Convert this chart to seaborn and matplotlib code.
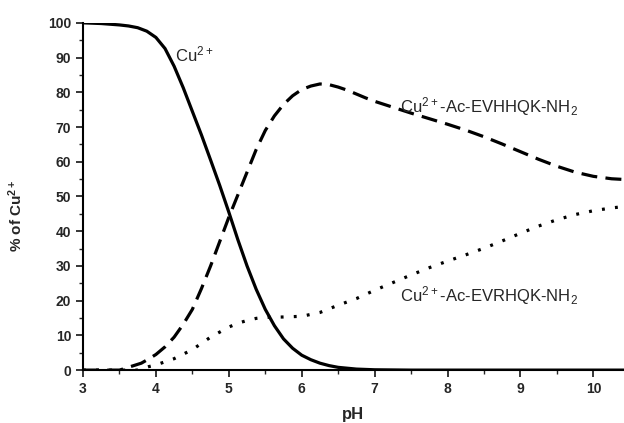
import numpy as np
import pandas as pd
import matplotlib
matplotlib.use("Agg")
import matplotlib.pyplot as plt
import seaborn as sns
from matplotlib.ticker import MultipleLocator

# speciation curves (% of total Cu2+)
ph_cu = [3.0, 3.25, 3.5, 3.625, 3.75, 3.875, 4.0, 4.125, 4.25, 4.375, 4.5,
         4.625, 4.75, 4.875, 5.0, 5.125, 5.25, 5.375, 5.5, 5.625, 5.75,
         5.875, 6.0, 6.125, 6.25, 6.375, 6.5, 6.75, 7.0, 7.5, 8.0, 9.0,
         10.0, 10.42]
cu_free = [100, 99.8, 99.4, 99.1, 98.6, 97.6, 95.8, 92.6, 87.5, 81.3, 74.5,
           67.7, 60.5, 53.2, 45.5, 37.5, 30, 23.3, 17.5, 12.8, 9,
           6.3, 4.3, 3.0, 2.0, 1.3, 0.8, 0.3, 0.1, 0, 0, 0,
           0, 0]

ph_evhhqk = [3.0, 3.5, 3.65, 3.8, 3.9, 4.0, 4.125, 4.25, 4.375, 4.5, 4.625,
             4.75, 4.875, 5.0, 5.125, 5.25, 5.375, 5.5, 5.625, 5.75, 5.875,
             6.0, 6.125, 6.25, 6.375, 6.5, 6.625, 6.75, 6.875, 7.0, 7.25,
             7.5, 7.75, 8.0, 8.25, 8.5, 8.75, 9.0, 9.25, 9.5, 9.75, 10.0,
             10.25, 10.42]
cu_evhhqk = [0, 0, 1, 2, 3.2, 4.5, 6.7, 9.5, 13.2, 17.5, 23.5,
             30, 37, 44, 50.5, 57, 63.5, 69, 73.2, 76.5, 79,
             80.8, 81.8, 82.4, 82.2, 81.5, 80.6, 79.5, 78.4, 77.4, 75.7,
             74.0, 72.4, 70.8, 69.1, 67.2, 65.1, 62.9, 60.7, 58.7, 57.0, 55.8,
             55.1, 54.9]

ph_evrhqk = [3.0, 3.75, 3.9, 4.0, 4.25, 4.5, 4.75, 5.0, 5.125, 5.25, 5.375,
             5.5, 5.75, 6.0, 6.25, 6.5, 6.75, 7.0, 7.25, 7.5, 7.75, 8.0,
             8.25, 8.5, 8.75, 9.0, 9.25, 9.5, 9.75, 10.0, 10.25, 10.42]
cu_evrhqk = [0, 0, 1, 1.5, 3.3, 5.9, 9.5, 12.4, 13.5, 14.3, 14.9,
             15.2, 15.3, 15.5, 16.6, 18.7, 20.6, 23, 25.2, 27.4, 29.5, 31.4,
             33.2, 35.1, 37.2, 39.4, 41.5, 43.3, 44.8, 45.9, 46.7, 47.1]

labels = ["Cu$^{2+}$", "Cu$^{2+}$-Ac-EVHHQK-NH$_2$", "Cu$^{2+}$-Ac-EVRHQK-NH$_2$"]

sns.set_style("ticks")
plt.rcParams['font.family'] = ['Liberation Sans', 'DejaVu Sans']
plt.rcParams['mathtext.default'] = 'regular'

fig = plt.figure(figsize=(6.24, 4.23), dpi=100)
ax = fig.add_axes([0.133, 0.125, 0.867, 0.821])

df_cu = pd.DataFrame({"pH": ph_cu, "pct": cu_free})
df_hh = pd.DataFrame({"pH": ph_evhhqk, "pct": cu_evhhqk})
df_rh = pd.DataFrame({"pH": ph_evrhqk, "pct": cu_evrhqk})

sns.lineplot(data=df_cu, x="pH", y="pct", ax=ax, color="black", lw=2.3)
sns.lineplot(data=df_hh, x="pH", y="pct", ax=ax, color="black", lw=2.3,
             linestyle=(0, (5, 2.6)))
sns.lineplot(data=df_rh, x="pH", y="pct", ax=ax, color="black", lw=2.3,
             linestyle=(0, (0.9, 3.2)))

ax.text(4.26, 91, labels[0], fontsize=12, va="center")
ax.text(7.35, 76, labels[1], fontsize=12, va="center")
ax.text(7.35, 21.6, labels[2], fontsize=12, va="center")

ax.set_xlim(3, 10.42)
ax.set_ylim(0, 100)
ax.xaxis.set_major_locator(MultipleLocator(1))
ax.xaxis.set_minor_locator(MultipleLocator(0.5))
ax.yaxis.set_major_locator(MultipleLocator(10))
ax.yaxis.set_minor_locator(MultipleLocator(5))
ax.tick_params(which="major", direction="out", length=5, width=1.3, labelsize=10)
ax.tick_params(which="minor", direction="out", length=3, width=1.0)
for lab in ax.get_xticklabels() + ax.get_yticklabels():
    lab.set_fontweight("bold")

sns.despine(ax=ax)
for s in ["left", "bottom"]:
    ax.spines[s].set_linewidth(1.5)
    ax.spines[s].set_color("black")

ax.set_xlabel("pH", fontsize=12, fontweight="bold")
ax.set_ylabel("% of Cu$^{2+}$", fontsize=11, fontweight="bold")
ax.xaxis.set_label_coords(0.5, -0.105)
ax.yaxis.set_label_coords(-0.107, 0.444)

fig.savefig("out.png", dpi=100)
